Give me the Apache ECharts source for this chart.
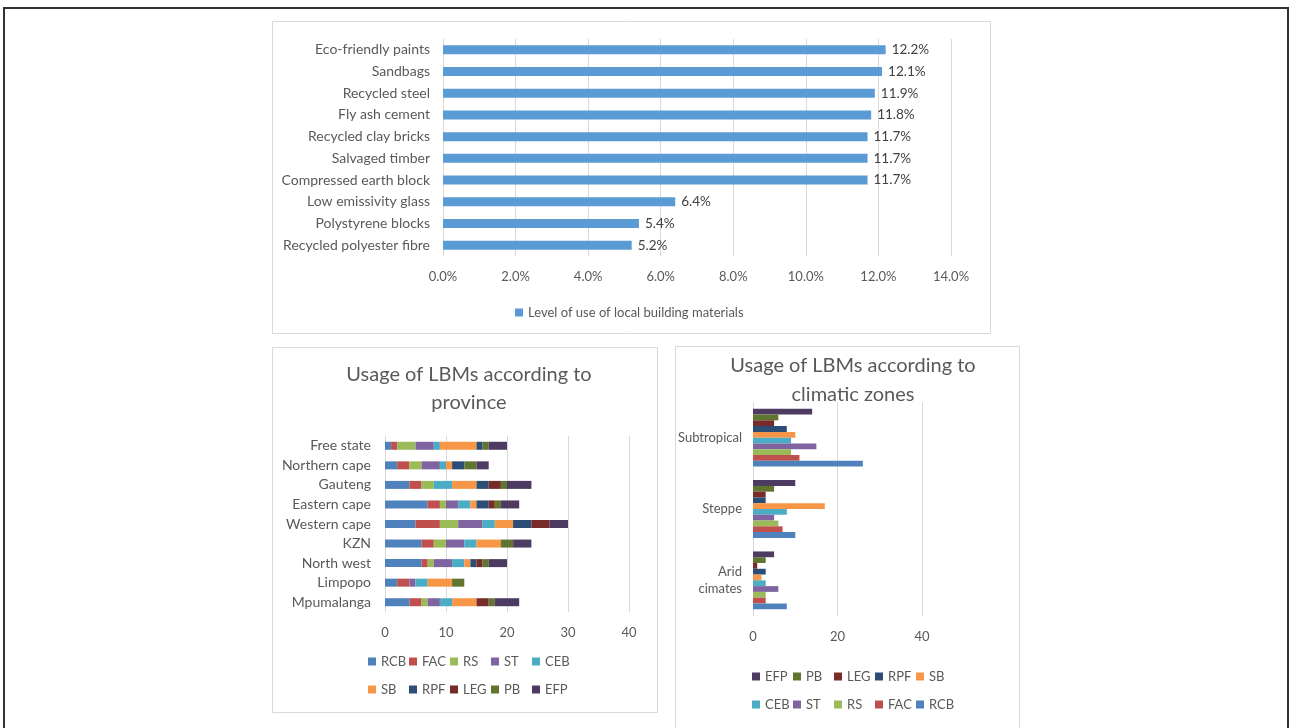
<!DOCTYPE html>
<html>
<head>
<meta charset="utf-8">
<script src="https://cdn.jsdelivr.net/npm/echarts@6/dist/echarts.min.js"></script>
<style>
  html, body { margin: 0; padding: 0; background: #fff; }
  #chart { width: 1290px; height: 728px; }
</style>
</head>
<body>
<div id="chart"></div>
<script>
var myChart = echarts.init(document.getElementById('chart'));

// top chart: level of use (%)
var materials = ['Eco-friendly paints', 'Sandbags', 'Recycled steel', 'Fly ash cement', 'Recycled clay bricks',
    'Salvaged timber', 'Compressed earth block', 'Low emissivity glass', 'Polystyrene blocks', 'Recycled polyester fibre'];
var useLevel = [12.2, 12.1, 11.9, 11.8, 11.7, 11.7, 11.7, 6.4, 5.4, 5.2];

// material codes
var codes = ['RCB', 'FAC', 'RS', 'ST', 'CEB', 'SB', 'RPF', 'LEG', 'PB', 'EFP'];
var codeColors = ['#4F81BD', '#C0504D', '#9BBB59', '#8064A2', '#4BACC6', '#F79646', '#2C4D75', '#772C2A', '#5F7530', '#4D3B62'];

// province chart (top to bottom)
var provinces = ['Free state', 'Northern cape', 'Gauteng', 'Eastern cape', 'Western cape', 'KZN', 'North west', 'Limpopo', 'Mpumalanga'];
var provRCB = [1, 2, 4, 7, 5, 6, 6, 2, 4];
var provFAC = [1, 2, 2, 2, 4, 2, 1, 2, 2];
var provRS  = [3, 2, 2, 1, 3, 2, 1, 0, 1];
var provST  = [3, 3, 0, 2, 4, 3, 3, 1, 2];
var provCEB = [1, 1, 3, 2, 2, 2, 2, 2, 2];
var provSB  = [6, 1, 4, 1, 3, 4, 1, 4, 4];
var provRPF = [1, 2, 2, 2, 3, 0, 1, 0, 0];
var provLEG = [0, 0, 2, 1, 3, 0, 1, 0, 2];
var provPB  = [1, 2, 1, 1, 0, 2, 1, 2, 1];
var provEFP = [3, 2, 4, 3, 3, 3, 3, 0, 4];
var provData = [provRCB, provFAC, provRS, provST, provCEB, provSB, provRPF, provLEG, provPB, provEFP];

// climatic zone chart (bottom to top)
var zones = ['Arid cimates', 'Steppe', 'Subtropical'];
var zoneRCB = [8, 10, 26];
var zoneFAC = [3, 7, 11];
var zoneRS  = [3, 6, 9];
var zoneST  = [6, 5, 15];
var zoneCEB = [3, 8, 9];
var zoneSB  = [2, 17, 10];
var zoneRPF = [3, 3, 8];
var zoneLEG = [1, 3, 5];
var zonePB  = [3, 5, 6];
var zoneEFP = [5, 10, 14];
var zoneData = [zoneRCB, zoneFAC, zoneRS, zoneST, zoneCEB, zoneSB, zoneRPF, zoneLEG, zonePB, zoneEFP];

var txt = '#595959';
var font = 'Lato';
var gridColor = '#d9d9d9';

var series = [{
    type: 'bar',
    name: 'Level of use of local building materials',
    xAxisIndex: 0, yAxisIndex: 0,
    data: useLevel,
    barWidth: 9,
    itemStyle: { color: '#5B9BD5' },
    label: {
        show: true, position: 'right', distance: 6,
        color: '#404040', fontSize: 13.5, fontFamily: font,
        formatter: function (p) { return p.value.toFixed(1) + '%'; }
    }
}];
codes.forEach(function (c, i) {
    series.push({
        type: 'bar', name: c, stack: 'prov',
        xAxisIndex: 1, yAxisIndex: 1,
        data: provData[i], barWidth: 8,
        itemStyle: { color: codeColors[i] }
    });
});
// first series is drawn on top of the group, so go from EFP down to RCB
for (var k = codes.length - 1; k >= 0; k--) {
    series.push({
        type: 'bar', name: codes[k],
        xAxisIndex: 2, yAxisIndex: 2,
        data: zoneData[k], barGap: '0%', barCategoryGap: '19%',
        itemStyle: { color: codeColors[k] }
    });
}

function valueAxis(idx, max, interval, fmt) {
    return {
        type: 'value', gridIndex: idx, min: 0, max: max, interval: interval,
        axisLine: { show: false }, axisTick: { show: false },
        splitLine: { lineStyle: { color: gridColor } },
        axisLabel: { color: txt, fontSize: 13, fontFamily: font, margin: 14, formatter: fmt }
    };
}
function catAxis(idx, data, inverse, margin, size) {
    return {
        type: 'category', gridIndex: idx, data: data, inverse: inverse,
        axisLine: { show: false }, axisTick: { show: false },
        axisLabel: { color: txt, fontSize: size, fontFamily: font, margin: margin }
    };
}

// one legend per item so the entries sit in even columns
var legends = [{
    data: ['Level of use of local building materials'],
    left: 510, top: 301, itemWidth: 8, itemHeight: 8, icon: 'rect',
    textStyle: { color: txt, fontSize: 13, fontFamily: font }
}];
function legendGrid(rows, left, top) {
    rows.forEach(function (row, r) {
        row.forEach(function (name, c) {
            legends.push({
                data: [name], left: left + c * 41, top: top + r * 28,
                padding: 0, itemWidth: 8, itemHeight: 8, icon: 'rect',
                textStyle: { color: txt, fontSize: 13, fontFamily: font }
            });
        });
    });
}
legendGrid([['RCB', 'FAC', 'RS', 'ST', 'CEB'], ['SB', 'RPF', 'LEG', 'PB', 'EFP']], 368, 655);
legendGrid([['EFP', 'PB', 'LEG', 'RPF', 'SB'], ['CEB', 'ST', 'RS', 'FAC', 'RCB']], 752, 670);

myChart.setOption({
    animation: false,
    graphic: [
        { type: 'rect', shape: { x: 4, y: 8, width: 1284, height: 740 }, style: { fill: 'none', stroke: '#333', lineWidth: 2 } },
        { type: 'rect', shape: { x: 272.5, y: 21.5, width: 718, height: 312 }, style: { fill: 'none', stroke: gridColor, lineWidth: 1 } },
        { type: 'rect', shape: { x: 272.5, y: 347.5, width: 385, height: 365 }, style: { fill: 'none', stroke: gridColor, lineWidth: 1 } },
        { type: 'rect', shape: { x: 675.5, y: 346.5, width: 344, height: 400 }, style: { fill: 'none', stroke: gridColor, lineWidth: 1 } }
    ],
    title: [{
        text: 'Usage of LBMs according to\nprovince',
        left: 464, top: 356, textAlign: 'center',
        textStyle: { color: txt, fontSize: 20, fontWeight: 'normal', fontFamily: font, lineHeight: 28 }
    }, {
        text: 'Usage of LBMs according to\nclimatic zones',
        left: 848, top: 346, textAlign: 'center',
        textStyle: { color: txt, fontSize: 20, fontWeight: 'normal', fontFamily: font, lineHeight: 29 }
    }],
    legend: legends,
    grid: [
        { left: 443, top: 39, width: 508, height: 217 },
        { left: 385, top: 436, width: 244, height: 176 },
        { left: 753, top: 402, width: 169, height: 214 }
    ],
    xAxis: [
        valueAxis(0, 14, 2, function (v) { return v.toFixed(1) + '%'; }),
        valueAxis(1, 40, 10),
        valueAxis(2, 40, 20)
    ],
    yAxis: [
        catAxis(0, materials, true, 13, 14),
        catAxis(1, provinces, true, 14, 14),
        (function () {
            var a = catAxis(2, zones, false, 11, 13);
            a.axisLabel.formatter = function (v) { return v.replace(' ', '\n'); };
            a.axisLabel.lineHeight = 17;
            return a;
        })()
    ],
    series: series
});
</script>
</body>
</html>
